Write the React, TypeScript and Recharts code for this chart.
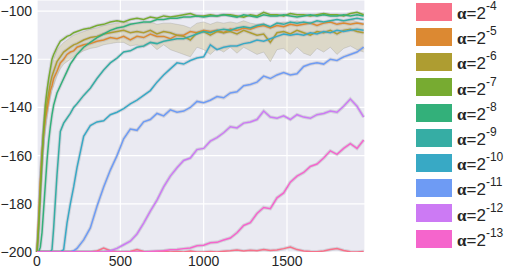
import React from 'react';
import { Line, Area, XAxis, YAxis, CartesianGrid, ComposedChart } from 'recharts';

// episodes sampled for every curve
const episodes = [
  0, 10, 20, 30, 40, 50, 60, 70, 80, 90, 100, 120, 140, 160, 180, 200, 220, 240,
  280, 320, 360, 400, 440, 480, 520, 560, 600, 640, 680, 720, 760, 800, 840, 880, 920, 960,
  1000, 1040, 1080, 1120, 1160, 1200, 1240, 1280, 1320, 1360, 1400, 1440, 1480, 1520, 1560,
  1600, 1640, 1680, 1720, 1760, 1800, 1840, 1880, 1920, 1960,
];

const a4 = [
  -200, -200, -200, -200, -200, -200, -200, -200, -200, -200, -200, -200, -200, -200, -200, -200, -200, -200,
  -200, -200, -199.6, -198.4, -199.5, -200, -200, -199.8, -199, -199.8, -200, -200, -199.7, -200, -199.8, -200, -199.6, -200,
  -200, -199.8, -200, -199.7, -199.5, -199.2, -199.6, -199.3, -199.5, -199, -199.4, -199.2, -198.6, -197.9, -199,
  -199.6, -199.8, -199.9, -199.6, -199, -198.6, -199.4, -199.9, -200, -199.8,
];
const a5 = [
  -200, -186, -171, -159, -151, -145, -141, -137, -133, -131, -128, -125, -121.5, -120, -118, -117, -116.5, -115,
  -114, -113.5, -112.5, -112, -111, -111.5, -110.5, -112, -110.5, -111, -109.5, -110.5, -110.5, -111.5, -110, -110, -108.5, -109,
  -108, -108.5, -108, -109, -107.5, -108, -107, -107.5, -106.5, -106, -107, -106, -106.5, -105.5, -106,
  -105.5, -105, -106, -105, -104.5, -105.5, -105, -105.5, -105, -105.5,
];
const a6 = [
  -200, -188, -172, -160, -150, -143, -138, -134, -130, -127, -125, -121, -119, -117, -116, -115, -114, -113.5,
  -112, -111, -110.5, -109.5, -109, -108.5, -108, -109, -108.5, -109, -108, -109.5, -108.5, -109, -110, -110.5, -112, -109,
  -108.5, -110, -108.5, -109, -108.5, -109.5, -108, -109, -110, -109.5, -113, -109, -108.5, -109.5, -108,
  -109, -110, -108.5, -109, -108, -109.5, -108, -107.5, -108.5, -109,
];
const a6Low = [
  -200, -194, -180, -168, -157, -150, -145, -140, -136, -133, -131, -127, -124, -122, -121, -120, -119, -118,
  -116.5, -115.5, -115, -114, -113.5, -113, -113, -114.5, -114, -115, -113.5, -116, -114, -116, -117, -118, -119, -115,
  -116, -118, -115.5, -117, -115, -117.5, -115, -116.5, -118, -117, -121, -116, -115.5, -118, -115,
  -117.5, -118.5, -115.5, -117, -115, -118, -115.5, -114.5, -116, -117,
];
const a6High = [
  -200, -183, -165, -153, -144, -137, -132, -128, -125, -122, -120, -116, -114.5, -113, -112, -111, -110, -109.5,
  -108.5, -107.5, -107, -106, -105.5, -105, -104.5, -105, -105, -105, -104.5, -105.5, -105, -105, -105.5, -106, -107, -105,
  -104.5, -105.5, -104.5, -105, -104.5, -105, -104, -105, -105.5, -105, -107, -105, -104.5, -105, -104,
  -105, -105.5, -104.5, -105, -104, -105, -104, -103.5, -104.5, -105,
];
const a7 = [
  -200, -190, -176, -162, -149, -139, -133, -128, -124, -120, -118, -115, -112.5, -111.5, -110.5, -110, -109, -108.5,
  -107.5, -107, -106, -105.5, -104.5, -104, -104.5, -103.5, -103, -103.5, -102.5, -103, -102, -102.5, -102, -101.5, -101, -102,
  -102, -101.5, -102, -101.5, -101.5, -102, -102.5, -101.5, -102, -100.5, -101.5, -101.5, -102, -101, -101.5,
  -101.5, -102, -101.5, -101, -101.5, -101.5, -102, -101, -100.5, -101.5,
];
const a8 = [
  -200, -200, -198, -192, -182, -172, -162, -154, -148, -143, -139, -134, -131, -128, -125, -122, -120, -118,
  -115, -113, -111, -109.5, -108, -107, -106.5, -105.5, -105, -104.5, -104.5, -103.5, -103.5, -103, -103, -102.5, -102.5, -102,
  -102.5, -102, -102, -101.5, -102, -102.5, -101.5, -102, -102.5, -101.5, -102, -102, -101.5, -102, -102.5,
  -102, -101.5, -102, -101.5, -102, -102, -101.5, -102, -101.5, -102,
];
const a9 = [
  -200, -200, -200, -200, -200, -200, -200, -200, -200, -199, -190, -168, -150, -146.5, -144.5, -142.5, -140, -138.5,
  -135, -132, -128, -124.5, -121.5, -119.5, -117, -116.5, -115, -114.5, -113, -113.5, -112.5, -112, -111.5, -111.5, -110.5, -109.5,
  -108.5, -109, -108, -107.5, -108, -107, -106.5, -107, -106, -105.5, -106.5, -105, -105.5, -104.5, -105,
  -104.5, -105, -104, -104.5, -104, -103.5, -104, -103.5, -103, -103.5,
];
const a10 = [
  -200, -200, -200, -200, -200, -200, -200, -200, -200, -200, -200, -200, -200, -199, -188, -180, -173, -165,
  -152, -147.5, -146, -145.5, -143, -142, -140.5, -138.5, -137, -135, -133, -129.5, -126.5, -124, -121.5, -122, -120.5, -119.5,
  -119, -114, -116, -115, -114.5, -114.5, -113.5, -113, -112, -112.5, -111.5, -110.5, -109.5, -110, -109.5,
  -110, -109, -109.5, -108.5, -109, -108, -108.5, -108, -107.5, -108,
];
const a11 = [
  -200, -200, -200, -200, -200, -200, -200, -200, -200, -200, -200, -200, -200, -200, -200, -200, -199.5, -198.5,
  -195, -190, -181, -173, -166, -160, -153, -149, -149.5, -146, -145, -142.5, -143.5, -141, -142, -141.5, -140, -137.5,
  -138, -137, -135.5, -136, -134, -133.5, -131, -130.5, -129.5, -127, -128, -126.5, -125.5, -126.5, -126,
  -123, -122, -121.5, -122, -120, -120.5, -119, -118, -117, -115,
];
const a12 = [
  -200, -200, -200, -200, -200, -200, -200, -200, -200, -200, -200, -200, -200, -200, -200, -200, -200, -200,
  -200, -200, -200, -200, -199.5, -198.5, -197, -195.5, -192.5, -188, -183, -178.5, -173, -168.5, -165, -162, -161, -157.5,
  -157, -154, -152.5, -150.5, -148, -148.5, -146.5, -146, -145, -141.5, -144, -144.5, -143.5, -145, -143,
  -144, -144.5, -143, -142.5, -141.5, -142, -139.5, -136.5, -139.5, -144,
];
const a13 = [
  -200, -200, -200, -200, -200, -200, -200, -200, -200, -200, -200, -200, -200, -200, -200, -200, -200, -200,
  -200, -200, -200, -200, -200, -200, -200, -200, -200, -200, -199.8, -199.6, -199.5, -199.1, -199, -198.6, -198.3, -197.4,
  -197.2, -196.2, -196, -195, -194.2, -192, -189, -187.8, -184, -181.5, -182, -177.5, -175.5, -171, -168.5,
  -167, -164.5, -163.5, -161, -158, -159.5, -157, -155, -157, -153.5,
];

const exponents = [4, 5, 6, 7, 8, 9, 10, 11, 12, 13];
const seriesValues = [a4, a5, a6, a7, a8, a9, a10, a11, a12, a13];
const colors = [
  '#f77189', '#dc8932', '#ae9d31', '#77ab31', '#33b07a',
  '#36ada4', '#38a9c5', '#6e9bf4', '#cc7af4', '#f565cc',
];

const yTicks = [-200, -180, -160, -140, -120, -100];
const xTicks = [0, 500, 1000, 1500];

const rows = episodes.map((ep, i) => {
  const row: Record<string, any> = { ep, band6: [a6Low[i], a6High[i]] };
  seriesValues.forEach((s, k) => {
    row['s' + exponents[k]] = s[i];
  });
  return row;
});

const fmt = (v: number) => String(v).replace('-', '\u2212');
const tickStyle = { fontSize: 14, fill: '#262626', fontFamily: 'Liberation Sans, Arial, sans-serif' };

const ChartLegend = () => (
  <div style={{ position: 'absolute', left: 0, top: 0 }}>
    {exponents.map((e, i) => {
      const top = 2.7 + i * 25.2;
      return (
        <React.Fragment key={e}>
          <div
            style={{
              position: 'absolute', left: 416, top, width: 36, height: 18, background: colors[i],
            }}
          />
          <div
            style={{
              position: 'absolute', left: 457, top: top + 2.2, fontSize: 17, lineHeight: '17px',
              color: '#262626', fontFamily: 'Liberation Sans, Arial, sans-serif', whiteSpace: 'nowrap',
            }}
          >
            <span style={{ fontFamily: 'Liberation Serif, serif', fontWeight: 700 }}>α</span>
            =2
            <span style={{ fontSize: 12, position: 'relative', top: -9 }}>-{e}</span>
          </div>
        </React.Fragment>
      );
    })}
  </div>
);

export default function App() {
  return (
    <div style={{ position: 'absolute', left: 0, top: 0, width: 506, height: 268 }}>
      <ComposedChart width={506} height={268} data={rows} margin={{ top: 0, right: 141, bottom: 0, left: 0 }}>
        <CartesianGrid fill="#eaeaf2" stroke="#ffffff" strokeWidth={1.2} />
        <XAxis
          dataKey="ep"
          type="number"
          domain={[0, 1968]}
          ticks={xTicks}
          axisLine={false}
          tickLine={false}
          tickSize={3}
          tickMargin={1}
          height={16}
          tick={tickStyle}
          interval={0}
        />
        <YAxis
          type="number"
          domain={[-200, -95.4]}
          ticks={yTicks}
          axisLine={false}
          tickLine={false}
          tickSize={3}
          tickMargin={2}
          width={37}
          tick={tickStyle}
          tickFormatter={fmt}
          allowDataOverflow
        />
        <Area
          dataKey="band6"
          type="linear"
          fill={colors[2]}
          fillOpacity={0.22}
          stroke="#8a8a8a"
          strokeOpacity={0.45}
          strokeWidth={0.6}
          isAnimationActive={false}
          dot={false}
          activeDot={false}
        />
        {exponents.map((e) => (
          <Line
            key={'halo' + e}
            dataKey={'s' + e}
            type="linear"
            stroke="#9a9aa6"
            strokeOpacity={0.3}
            strokeWidth={3.5}
            dot={false}
            activeDot={false}
            isAnimationActive={false}
          />
        ))}
        {exponents.map((e, k) => (
          <Line
            key={'line' + e}
            dataKey={'s' + e}
            type="linear"
            stroke={colors[k]}
            strokeWidth={1.5}
            dot={false}
            activeDot={false}
            isAnimationActive={false}
          />
        ))}
      </ComposedChart>
      <ChartLegend />
    </div>
  );
}
